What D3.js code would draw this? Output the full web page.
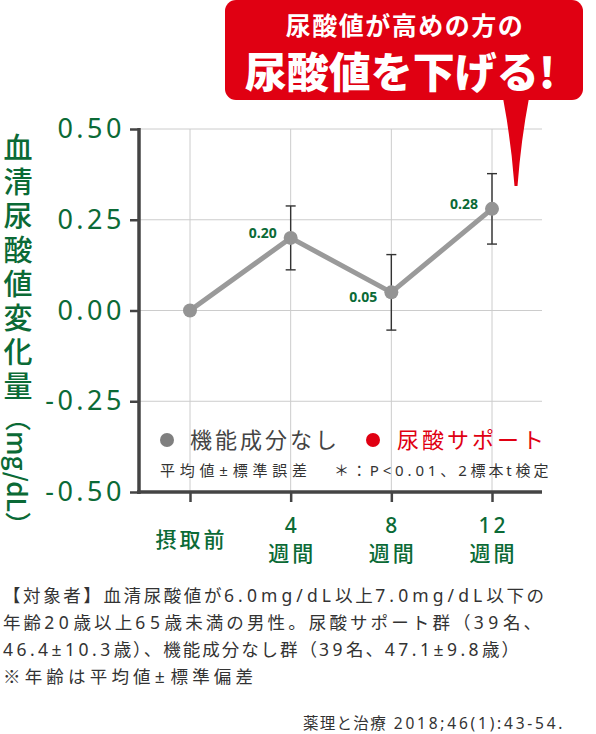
<!DOCTYPE html>
<html>
<head>
<meta charset="utf-8">
<script src="https://cdn.jsdelivr.net/npm/d3@7"></script>
<style>
  body { margin: 0; background: #fff; }
  svg { display: block; }
</style>
</head>
<body>
<div id="chart"></div>
<script>
// data
var categories = ["摂取前", "4週間", "8週間", "12週間"];
var xLabelTop = ["", "4", "8", "12"];
var xLabelBottom = ["摂取前", "週間", "週間", "週間"];
var meanValues = [0, 0.20, 0.05, 0.28];
var seValues = [0, 0.088, 0.104, 0.097];
var yTicks = [0.50, 0.25, 0.00, -0.25, -0.50];
var legendNames = ["機能成分なし", "尿酸サポート"];
var noteLines = [
  "【対象者】血清尿酸値が6.0mg/dL以上7.0mg/dL以下の",
  "年齢20歳以上65歳未満の男性。尿酸サポート群（39名、",
  "46.4±10.3歳）、機能成分なし群（39名、47.1±9.8歳）",
  "※年齢は平均値±標準偏差"
];

var W = 596, H = 734;
var green = "#0b6a36", red = "#e00012", grey = "#949494", dark = "#444";
var jp = "'Noto Sans CJK JP', 'Noto Sans', sans-serif";
var plotLeft = 139, plotRight = 542, plotTop = 129, plotBottom = 492;

var svg = d3.select("#chart").append("svg")
    .attr("width", W)
    .attr("height", H);

// split a line into latin / japanese runs so each can get its own spacing
function richText(t, str, latinGap, cjkGap) {
  str.match(/[\x20-\x7E±]+|[^\x20-\x7E±]+/g).forEach(function(run) {
    var latin = /^[\x20-\x7E±]/.test(run);
    t.append("tspan")
      .style("font-family", latin ? "'Noto Sans', sans-serif" : jp)
      .style("letter-spacing", (latin ? latinGap : cjkGap) + "px")
      .text(run);
  });
  return t;
}

var x = d3.scalePoint()
    .domain(categories)
    .range([190, 492]);
var y = d3.scaleLinear()
    .domain([-0.5, 0.5])
    .range([plotBottom, plotTop]);

// grid
svg.append("g").selectAll("line.h")
    .data(yTicks)
    .enter().append("line")
    .attr("x1", plotLeft).attr("x2", plotRight)
    .attr("y1", function(d) { return y(d); })
    .attr("y2", function(d) { return y(d); })
    .attr("stroke", "#cccccc").attr("stroke-width", 1);
svg.append("g").selectAll("line.v")
    .data(categories)
    .enter().append("line")
    .attr("x1", function(d) { return x(d); })
    .attr("x2", function(d) { return x(d); })
    .attr("y1", plotTop).attr("y2", plotBottom)
    .attr("stroke", "#cccccc").attr("stroke-width", 1);

// y axis
var yAxis = svg.append("g")
    .attr("transform", "translate(" + plotLeft + ",0)")
    .call(d3.axisLeft(y).tickValues(yTicks).tickSize(9).tickFormat(function(d) { return d3.format(".2f")(d).replace("−", "-"); }));
yAxis.select(".domain").remove();
yAxis.selectAll(".tick line").attr("stroke", dark).attr("stroke-width", 2.5);
yAxis.selectAll(".tick text")
    .attr("x", -14)
    .attr("fill", green)
    .style("font-family", "'Noto Sans', sans-serif")
    .style("font-size", "27px")
    .style("letter-spacing", "3.5px");
svg.append("line")
    .attr("x1", plotLeft).attr("x2", plotLeft)
    .attr("y1", plotTop - 1).attr("y2", plotBottom + 2)
    .attr("stroke", dark).attr("stroke-width", 3.5);

// x axis
var xAxis = svg.append("g")
    .attr("transform", "translate(0," + plotBottom + ")")
    .call(d3.axisBottom(x).tickSize(10).tickFormat(""));
xAxis.select(".domain").remove();
xAxis.selectAll(".tick line").attr("stroke", dark).attr("stroke-width", 2.5);
svg.append("line")
    .attr("x1", plotLeft - 2).attr("x2", plotRight)
    .attr("y1", plotBottom).attr("y2", plotBottom)
    .attr("stroke", dark).attr("stroke-width", 3.5);

var xl = svg.append("g")
    .attr("fill", green)
    .style("font-family", jp)
    .style("font-size", "21px")
    .style("font-weight", 500)
    .attr("text-anchor", "middle");
categories.forEach(function(c, i) {
  if (xLabelTop[i] === "") {
    xl.append("text").attr("x", x(c) + 1.5).attr("y", 547)
      .style("letter-spacing", "3px").text(xLabelBottom[i]);
  } else {
    xl.append("text").attr("x", x(c) + 1.5).attr("y", 533)
      .style("font-family", "'Noto Sans', sans-serif")
      .style("letter-spacing", "3px").text(xLabelTop[i]);
    xl.append("text").attr("x", x(c) + 1.5).attr("y", 561)
      .style("letter-spacing", "3px").text(xLabelBottom[i]);
  }
});

// y title (vertical)
var yt = svg.append("text")
    .attr("x", 18)
    .attr("y", 133)
    .attr("fill", green)
    .style("writing-mode", "vertical-rl")
    .style("font-family", jp)
    .style("font-size", "29px")
    .style("font-weight", 500);
yt.append("tspan").style("letter-spacing", "5px").text("血清尿酸値変化量");
yt.append("tspan").style("font-size", "26px").style("letter-spacing", "0px").text("（mg/dL）");

// series
var pts = categories.map(function(c, i) { return { c: c, v: meanValues[i], se: seValues[i], i: i }; });

var eb = svg.append("g").attr("stroke", "#333").attr("stroke-width", 1.4);
pts.filter(function(d) { return d.se > 0; }).forEach(function(d) {
  var cx = x(d.c);
  eb.append("line").attr("x1", cx).attr("x2", cx).attr("y1", y(d.v + d.se)).attr("y2", y(d.v - d.se));
  eb.append("line").attr("x1", cx - 5).attr("x2", cx + 5).attr("y1", y(d.v + d.se)).attr("y2", y(d.v + d.se));
  eb.append("line").attr("x1", cx - 5).attr("x2", cx + 5).attr("y1", y(d.v - d.se)).attr("y2", y(d.v - d.se));
});

svg.append("path")
    .datum(pts)
    .attr("fill", "none")
    .attr("stroke", "#9a9a9a")
    .attr("stroke-width", 5)
    .attr("d", d3.line().x(function(d) { return x(d.c); }).y(function(d) { return y(d.v); }));

svg.selectAll("circle.pt")
    .data(pts)
    .enter().append("circle")
    .attr("cx", function(d) { return x(d.c); })
    .attr("cy", function(d) { return y(d.v); })
    .attr("r", 7)
    .attr("fill", grey);

svg.selectAll("text.val")
    .data(pts.filter(function(d) { return d.i > 0; }))
    .enter().append("text")
    .attr("x", function(d) { return x(d.c) - 14; })
    .attr("y", function(d) {
      var prev = meanValues[d.i - 1], next = meanValues[d.i + 1];
      var low = next !== undefined && d.v < prev && d.v < next;
      return y(d.v) + (low ? 10 : 0);
    })
    .attr("text-anchor", "end")
    .attr("fill", green)
    .style("font-family", "'Noto Sans', sans-serif")
    .style("font-size", "14px")
    .style("font-weight", 700)
    .text(function(d) { return d3.format(".2f")(d.v); });

// legend
var lg = svg.append("g").style("font-family", jp);
lg.append("circle").attr("cx", 167).attr("cy", 440).attr("r", 7).attr("fill", "#7f7f7f");
lg.append("text").attr("x", 190).attr("y", 448)
    .attr("fill", dark).style("font-size", "22px").style("letter-spacing", "3px")
    .text(legendNames[0]);
lg.append("circle").attr("cx", 373).attr("cy", 440).attr("r", 7).attr("fill", red);
lg.append("text").attr("x", 397).attr("y", 448)
    .attr("fill", red).style("font-size", "22px").style("letter-spacing", "3px")
    .text(legendNames[1]);
richText(lg.append("text").attr("x", 160).attr("y", 476)
    .attr("fill", "#333").style("font-size", "15px")
    .attr("textLength", 150).attr("lengthAdjust", "spacing"),
    "平均値±標準誤差", 3, 3);
richText(lg.append("text").attr("x", 334).attr("y", 476)
    .attr("fill", "#333").style("font-size", "15px")
    .attr("textLength", 216).attr("lengthAdjust", "spacing"),
    "＊：P<0.01、2標本t検定", 2.5, 1.5);

// notes under chart
var noteWidths = [543, 540, 518, 252];
noteLines.forEach(function(line, i) {
  var t = svg.append("text")
      .attr("x", 3)
      .attr("y", 602 + i * 27)
      .attr("fill", "#333")
      .style("font-size", "17.5px")
      .attr("textLength", noteWidths[i])
      .attr("lengthAdjust", "spacing");
  richText(t, line, 3.5, 2);
});
richText(svg.append("text")
    .attr("x", 303).attr("y", 729)
    .attr("fill", "#333")
    .style("font-size", "15.5px")
    .attr("textLength", 262).attr("lengthAdjust", "spacing"),
    "薬理と治療 2018;46(1):43-54.", 2.5, 1);

// speech balloon
var bl = svg.append("g");
bl.append("rect")
    .attr("x", 225).attr("y", 0)
    .attr("width", 358).attr("height", 100)
    .attr("rx", 11)
    .attr("fill", red);
bl.append("path")
    .attr("d", "M503,98 Q511,140 514.5,186 L517.5,186 Q521,140 529,98 Z")
    .attr("fill", red);
bl.append("text")
    .attr("x", 405).attr("y", 35)
    .attr("text-anchor", "middle")
    .attr("fill", "#fff")
    .style("font-family", jp)
    .style("font-size", "25px")
    .style("font-weight", 700)
    .style("letter-spacing", "1.5px")
    .text("尿酸値が高めの方の");
bl.append("text")
    .attr("x", 400).attr("y", 88)
    .attr("text-anchor", "middle")
    .attr("fill", "#fff")
    .style("font-family", jp)
    .style("font-size", "42px")
    .style("font-weight", 900)
    .text("尿酸値を下げる!");
</script>
</body>
</html>
